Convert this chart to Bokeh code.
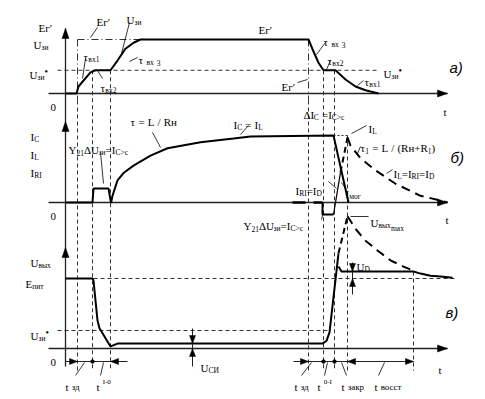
import numpy as np
from bokeh.plotting import figure
from bokeh.models import Range1d, ColumnDataSource
from bokeh.core.properties import value
from bokeh.embed import file_html
from bokeh.resources import INLINE

# ---------------- data (time in arbitrary units, signals normalised) ----------------
t_events = [12, 27, 45, 243, 258, 269, 282, 348]

# a) gate-source voltage
ugs_t = [0, 11, 13, 25, 30, 45, 52, 60, 68, 75, 243, 247, 253, 258, 270, 280, 290, 300, 313]
ugs_v = [0, 0, 0.13, 0.39, 0.43, 0.43, 0.61, 0.83, 0.94, 1.0, 1.0, 0.82, 0.57, 0.43, 0.43, 0.26, 0.13, 0.06, 0.0]
Eg_level = 1.0
Ugs_star_a = 0.43

# b) currents
ic_t = [0, 27, 28, 43, 45.5, 47, 52, 58, 68, 85, 102, 135, 168, 185, 268, 283]
ic_v = [0, 0, 0.21, 0.21, -0.01, 0.1, 0.33, 0.44, 0.55, 0.70, 0.81, 0.90, 0.955, 0.985, 1.0, 0.0]
ic_base1_t = [227, 240]
ic_base2_t = [248, 257]
ic_dip_t = [257, 257, 268]
ic_dip_v = [0, -0.18, -0.18]
iri_t = [268, 275]
iri_v = [-0.18, 0.45]
iri_dash_t = [275, 282]
iri_dash_v = [0.45, 0.97]
il_level = 1.0
il_t = [282, 285, 295, 310, 330, 355, 375, 382]
il_v = [0.97, 0.85, 0.66, 0.48, 0.28, 0.10, 0.03, 0.0]

# c) output voltage
uo_t = [0, 27, 28, 32, 34, 45, 52, 257, 261, 264, 273]
uo_v = [1.0, 1.0, 0.97, 0.4, 0.29, 0.03, 0.07, 0.07, 0.11, 0.23, 1.36]
upk_t = [273, 282]
upk_v = [1.36, 1.89]
udec_t = [282, 290, 300, 312, 325, 338, 348]
udec_v = [1.89, 1.71, 1.54, 1.40, 1.26, 1.17, 1.11]
ulev_t = [273, 276, 348, 355, 365, 375, 387]
ulev_v = [1.17, 1.10, 1.10, 1.07, 1.04, 1.03, 1.01]
E_pit = 1.0
Ugs_star_c = 0.257
U_ds = 0.07
U_D = 0.10

# ---------------- layout ----------------
X0, KX = 65, 1.0
PANEL = {"a": (93, 54), "b": (202, 67), "c": (348, 70)}
BOTTOM = 370


def X(t):
    return list(X0 + KX * np.asarray(t, dtype=float))


def Y(pn, v):
    base, k = PANEL[pn]
    return list(base - k * np.asarray(v, dtype=float))


def Y1(pn, v):
    return Y(pn, [v])[0]


def X1(t):
    return X([t])[0]


p = figure(width=485, height=399, x_range=Range1d(0, 485), y_range=Range1d(399, 0),
           output_backend="svg", toolbar_location=None, min_border=0,
           x_axis_type=None, y_axis_type=None)
p.grid.visible = False
p.outline_line_color = None
p.background_fill_color = "white"

AX = "#222222"
GD = "#333333"
DASH = "4 3"
DDOT = "7 3 1 3"

# ---- axes ----
for pn in ["a", "b", "c"]:
    base = PANEL[pn][0]
    p.line([48, 447], [base, base], line_color=AX, line_width=1.3)
p.line([X0, X0], [28, 366], line_color=AX, line_width=1.3)

tri_xs, tri_ys = [], []


def tri(x, y, d, L=8, W=3):
    if d == "r":
        tri_xs.append([x, x - L, x - L]); tri_ys.append([y, y - W, y + W])
    elif d == "l":
        tri_xs.append([x, x + L, x + L]); tri_ys.append([y, y - W, y + W])
    elif d == "u":
        tri_xs.append([x, x - W, x + W]); tri_ys.append([y, y + L, y + L])
    else:
        tri_xs.append([x, x - W, x + W]); tri_ys.append([y, y - L, y - L])


for pn, top in [("a", 28), ("b", 121), ("c", 247)]:
    tri(X0, top, "u", 10, 3.5)
    tri(447, PANEL[pn][0], "r", 10, 3.5)

# ---- guide lines ----
p.line([X1(t_events[0]), X1(75)], [Y1("a", Eg_level)] * 2, line_color=GD, line_dash=DDOT, line_width=1)
p.line([57, 378], [Y1("a", Ugs_star_a)] * 2, line_color=GD, line_dash=DASH, line_width=1)
p.line([X0, 455], [Y1("c", E_pit)] * 2, line_color=GD, line_dash=DASH, line_width=1)
p.line([57, X1(264)], [Y1("c", Ugs_star_c)] * 2, line_color=GD, line_dash=DASH, line_width=1)
p.line([X1(268), X1(282)], [Y1("b", il_level)] * 2, line_color=GD, line_dash="2 2", line_width=1)

top_levels = [Y1("a", Eg_level), Y1("a", Ugs_star_a), Y1("a", Ugs_star_a), Y1("a", Eg_level),
              Y1("a", Ugs_star_a), Y1("a", Ugs_star_a), Y1("b", il_level), Y1("c", 1.1)]
for i, (te, ytop) in enumerate(zip(t_events, top_levels)):
    xe = X1(te)
    if i in (0, 3):
        p.line([xe, xe], [ytop, 100], line_color=GD, line_dash=DDOT, line_width=1)
        p.line([xe, xe], [100, BOTTOM], line_color=GD, line_dash=DASH, line_width=1)
    else:
        p.line([xe, xe], [ytop, BOTTOM], line_color=GD, line_dash=DASH, line_width=1)

# ---- signals ----
SW = 2.0
p.line(X(ugs_t), Y("a", ugs_v), line_color="black", line_width=SW)
p.line(X(ic_t), Y("b", ic_v), line_color="black", line_width=SW)
p.line(X(ic_base1_t), Y("b", [0, 0]), line_color="black", line_width=2.6)
p.line(X(ic_base2_t), Y("b", [0, 0]), line_color="black", line_width=2.6)
p.line(X(ic_dip_t), Y("b", ic_dip_v), line_color="black", line_width=SW)
p.line(X(iri_t), Y("b", iri_v), line_color="black", line_width=1.2)
p.line(X(iri_dash_t), Y("b", iri_dash_v), line_color="black", line_width=SW, line_dash="6 4")
p.line(X(il_t), Y("b", il_v), line_color="black", line_width=SW, line_dash="9 6")

p.line(X(uo_t), Y("c", uo_v), line_color="black", line_width=SW)
p.line(X(upk_t), Y("c", upk_v), line_color="black", line_width=SW, line_dash="6 4")
p.line(X(udec_t), Y("c", udec_v), line_color="black", line_width=SW, line_dash="9 6")
p.line(X(ulev_t), Y("c", ulev_v), line_color="black", line_width=SW)

# ---- dimension arrows ----
ty = 361
p.line([X0, 127], [ty, ty], line_color=AX, line_width=1)
p.line([293, X1(t_events[7])], [ty, ty], line_color=AX, line_width=1)
tri(X1(t_events[0]), ty, "r"); tri(X1(t_events[2]), ty, "l")
tri(X1(t_events[3]), ty, "r"); tri(X1(t_events[6]), ty, "l"); tri(X1(t_events[7]), ty, "r")
p.scatter(X([t_events[1], t_events[4], t_events[5]]), [ty] * 3, size=3.5, color="black")

xu = X1(127)
p.line([xu, xu], [328, 366], line_color=AX, line_width=1)
tri(xu, Y1("c", U_ds), "d"); tri(xu, Y1("c", 0), "u")
xd = X1(287)
p.line([xd, xd], [262, 294], line_color=AX, line_width=1)
tri(xd, Y1("c", E_pit + U_D), "d"); tri(xd, Y1("c", E_pit), "u")

p.patches(tri_xs, tri_ys, fill_color="black", line_color="black", line_width=0.5)

# ---- pointer lines ----
ptr = [(97, 27, 90, 37), (129, 22, 121, 53), (85, 58, 82, 78), (137, 57, 129, 61),
       (97, 70, 102, 78), (325, 42, 316, 54), (330, 60, 326, 69), (297, 82, 307, 79),
       (363, 80, 357, 85), (152, 132, 160, 147), (100, 152, 103, 183), (248, 125, 240, 134),
       (366, 125, 351, 133), (360, 146, 357, 153), (392, 169, 386, 173), (328, 181, 336, 188),
       (345, 188, 341, 182), (321, 219, 323, 211), (350, 216, 368, 216),
       (75, 375, 84, 362), (100, 375, 103, 362), (301, 375, 311, 362), (324, 375, 327, 362),
       (346, 375, 341, 362), (378, 375, 384, 362)]
p.segment([a[0] for a in ptr], [a[1] for a in ptr], [a[2] for a in ptr], [a[3] for a in ptr],
          line_color="black", line_width=0.8)

# ---- text ----
CW = {"U": .722, "E": .611, "I": .333, "L": .611, "R": .667, "Y": .722, "C": .667, "D": .722,
      "t": .278, "г": .41, "з": .40, "и": .53, "в": .47, "х": .50, "ы": .70, "п": .53, "т": .45,
      "д": .50, "а": .44, "к": .48, "р": .50, "о": .50, "с": .44, "м": .63, "н": .53, "С": .667,
      "И": .722, "τ": .44, "Δ": .61, "=": .564, "/": .278, "(": .333, ")": .333, "+": .564,
      " ": .28, "′": .25, ">": .564, "m": .778, "a": .444, "x": .5, "-": .333, "•": .35, "c": .444}
S = 11
KIND = {"n": (S, 0), "s": (7.5, 3), "ss": (7.5, 6), "p": (7, -5), "m": (9, 0), "d": (10, -3)}
tx, ty_, tt, ts = [], [], [], []


def width(s, sz):
    return sum(CW.get(ch, .5) for ch in s) * sz


def run(x, cy, parts):
    by = cy + 4
    cx = x
    for txt, k in parts:
        sz, dy = KIND[k]
        core = txt.strip(" ")
        lead = len(txt) - len(txt.lstrip(" "))
        trail = len(txt) - len(txt.rstrip(" "))
        cx += lead * CW[" "] * S
        if core:
            words = core.split(" ")
            for j, w in enumerate(words):
                if w:
                    tx.append(cx); ty_.append(by + dy); tt.append(w); ts.append(f"{sz}px")
                    cx += width(w, sz)
                if j < len(words) - 1:
                    cx += CW[" "] * S
        cx += trail * CW[" "] * S


N = "n"; SB = "s"
Uzi = [("U", N), ("зи", SB)]
Uzis = [("U", N), ("зи", SB), ("•", "d")]
Eg = [("Eг′", N)]
Y21 = [("Y", N), ("21", SB), ("ΔU", N), ("зи", SB), ("=I", N), ("C>c", SB)]
labels = [
    (38, 23, Eg), (33, 40, Uzi), (96, 17, Eg), (126, 15, Uzi),
    (83, 52, [("τ", N), ("вх1", SB)]), (138, 55, [("τ", N), (" вх 3", SB)]),
    (29, 70, Uzis), (100, 83, [("τ", N), ("вх2", SB)]), (50, 103, [("0", N)]),
    (258, 25, Eg), (323, 37, [("τ", N), (" вх 3", SB)]), (327, 56, [("τ", N), ("вх2", SB)]),
    (383, 69, Uzis), (281, 82, Eg), (364, 77, [("τ", N), ("вх1", SB)]), (443, 107, [("t", N)]),
    (30, 132, [("I", N), ("C", SB)]), (30, 150, [("I", N), ("L", SB)]), (30, 168, [("I", N), ("RI", SB)]),
    (50, 212, [("0", N)]), (68, 145, Y21), (130, 117, [("τ = L / Rн", N)]),
    (233, 120, [("I", N), ("C", SB), (" = I", N), ("L", SB)]),
    (303, 110, [("ΔI", N), ("C", SB), (" =I", N), ("C>c", SB)]),
    (368, 124, [("I", N), ("L", SB)]),
    (360, 143, [("τ", N), ("1", SB), (" = L / (Rн+R", N), ("1", SB), (")", N)]),
    (393, 169, [("I", N), ("L", SB), ("=I", N), ("RI", SB), ("=I", N), ("D", SB)]),
    (295, 186, [("I", N), ("RI", SB), ("=I", N), ("D", SB)]),
    (345, 189, [("I", N), ("мог", SB)]), (243, 221, Y21),
    (370, 218, [("U", N), ("вых", SB), ("max", "ss")]), (445, 215, [("t", N)]),
    (30, 258, [("U", N), ("вых", SB)]), (25, 279, [("E", N), ("пит", SB)]),
    (30, 331, Uzis), (50, 358, [("0", N)]), (200, 363, [("U", N), ("СИ", SB)]),
    (356, 262, [("U", N), ("D", SB)]), (438, 365, [("t", N)]),
    (65, 382, [("t", N), (" зд", "m")]), (96, 382, [("t ", N), ("I-0", "p")]),
    (294, 382, [("t", N), (" зд", "m")]), (317, 382, [("t ", N), ("0-I", "p")]),
    (341, 382, [("t", N), (" закр", "m")]), (374, 382, [("t", N), (" восст", "m")]),
]
for lx, ly, parts in labels:
    run(lx, ly, parts)

src = ColumnDataSource(dict(x=tx, y=ty_, text=tt, size=ts))
p.text(x="x", y="y", text="text", source=src, text_font=value("Liberation Serif"),
       text_font_size="size", text_baseline="alphabetic", text_align="left", text_color="black")

p.text(x=[449, 450, 445], y=[67, 157, 312], text=["a)", "б)", "в)"],
       text_font=value("Liberation Sans"), text_font_style="italic", text_font_size="15px",
       text_baseline="alphabetic", text_align="left", text_color="black")

open("out.html", "w").write(file_html(p, INLINE))
